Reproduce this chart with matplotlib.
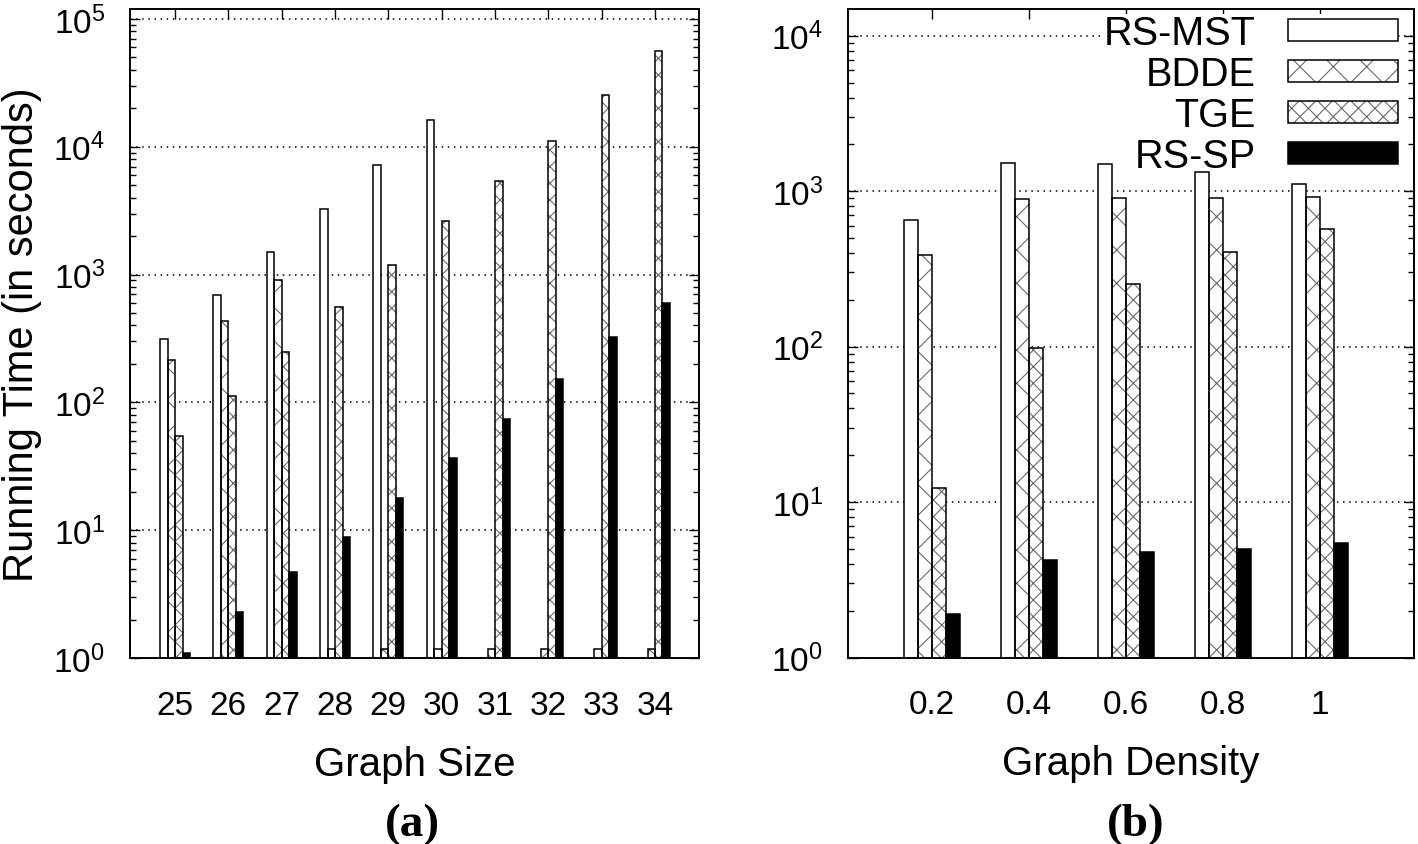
import numpy as np
import matplotlib
matplotlib.use("Agg")
import matplotlib.pyplot as plt
from matplotlib.ticker import LogLocator, NullLocator, NullFormatter

plt.rcParams['font.family'] = ['Liberation Sans', 'DejaVu Sans']
plt.rcParams['mathtext.fontset'] = 'custom'
plt.rcParams['mathtext.rm'] = 'Liberation Sans'
plt.rcParams['mathtext.it'] = 'Liberation Sans:italic'
plt.rcParams['mathtext.bf'] = 'Liberation Sans:bold'
plt.rcParams['hatch.linewidth'] = 0.8

# ---------------- data ----------------
series_names = ['RS-MST', 'BDDE', 'TGE', 'RS-SP']

graph_sizes = ['25', '26', '27', '28', '29', '30', '31', '32', '33', '34']
rs_mst_a = [316, 690, 1510, 3240, 7180, 16100, np.nan, np.nan, np.nan, np.nan]
bdde_a = [214, 437, 900, 1.18, 1.18, 1.18, 1.18, 1.18, 1.18, 1.18]
tge_a = [55, 112, 250, 556, 1188, 2610, 5390, 11100, 25600, 56600]
rssp_a = [1.1, 2.3, 4.7, 8.8, 17.9, 36.5, 73.9, 153, 323, 601]

densities = ['0.2', '0.4', '0.6', '0.8', '1']
rs_mst_b = [653, 1513, 1500, 1331, 1109]
bdde_b = [389, 893, 901, 905, 915]
tge_b = [12.4, 97.6, 251, 407, 569]
rssp_b = [1.9, 4.26, 4.77, 4.99, 5.48]

# ---------------- styles ----------------
face_cols = ['white', 'white', 'white', 'black']
hatches = [None, 'x', 'xx', None]
hatch_col = '#6a6a6a'

W, H = 1418, 845
fig = plt.figure(figsize=(W / 100, H / 100), dpi=100)


def px_axes(l, r, t, b):
    return [l / W, 1 - b / H, (r - l) / W, (b - t) / H]


ax1 = fig.add_axes(px_axes(130, 699, 10, 659))
ax2 = fig.add_axes(px_axes(848, 1414, 10, 658.5))


def draw(ax, cats, data, width):
    x = np.arange(len(cats))
    handles = []
    for i, vals in enumerate(data):
        off = (i - 1.5) * width
        vals = np.asarray(vals, dtype=float)
        if hatches[i]:
            b1 = ax.bar(x + off, vals, width, color=face_cols[i], edgecolor=hatch_col,
                        linewidth=0, hatch=hatches[i], zorder=2)
        else:
            b1 = ax.bar(x + off, vals, width, color=face_cols[i], linewidth=0, zorder=2)
        b2 = ax.bar(x + off, vals, width, fill=False, edgecolor='black',
                    linewidth=1.1, zorder=3)
        handles.append((b1.patches[0], b2.patches[0]))
    ax.set_xticks(x, cats)
    return handles


def style(ax, ylim, xlim):
    ax.set_yscale('log')
    ax.set_ylim(*ylim)
    ax.set_xlim(*xlim)
    ax.yaxis.set_major_locator(LogLocator(base=10, numticks=20))
    ax.yaxis.set_minor_locator(LogLocator(base=10, subs=np.arange(2, 10), numticks=20))
    ax.yaxis.set_minor_formatter(NullFormatter())
    ax.xaxis.set_minor_locator(NullLocator())
    ax.tick_params(axis='both', which='both', direction='in', top=True, right=True)
    ax.tick_params(axis='both', which='major', length=7, width=1.0, labelsize=24)
    ax.tick_params(axis='both', which='minor', length=4, width=1.0)
    ax.tick_params(axis='x', which='major', pad=23)
    ax.tick_params(axis='y', which='major', pad=18)
    ax.yaxis.grid(True, which='major', linestyle=(0, (1, 3)), color='black', linewidth=1.1)
    ax.set_axisbelow(True)
    for s in ax.spines.values():
        s.set_linewidth(1.4)


draw(ax1, graph_sizes, [rs_mst_a, bdde_a, tge_a, rssp_a], 0.1406)
style(ax1, (1, 10 ** 5.078), (-0.844, 9.825))
ax1.set_xlabel('Graph Size', fontsize=29, labelpad=17)
ax1.set_ylabel('Running Time (in seconds)', fontsize=30, labelpad=8)

handles = draw(ax2, densities, [rs_mst_b, bdde_b, tge_b, rssp_b], 0.1446)
style(ax2, (1, 10 ** 4.172), (-0.869, 4.975))
ax2.set_xlabel('Graph Density', fontsize=29, labelpad=17)

leg = ax2.legend(handles, series_names, loc='upper right', bbox_to_anchor=(0.972, 0.992),
                 frameon=True, fancybox=False, borderpad=0, borderaxespad=0,
                 markerfirst=False, handlelength=2.78, handleheight=0.48,
                 handletextpad=0.81, labelspacing=0.073, fontsize=28.5, framealpha=1)
leg.get_frame().set_edgecolor('none')
leg.get_frame().set_facecolor('white')
# above the grid, below the bars
leg.set_zorder(1.5)

fig.text(412 / W, 1 - 825 / H, '(a)', ha='center', va='center', fontsize=34,
         fontweight='bold', family='Liberation Serif')
fig.text(1136 / W, 1 - 825 / H, '(b)', ha='center', va='center', fontsize=34,
         fontweight='bold', family='Liberation Serif')

fig.savefig('out.png', dpi=100)
